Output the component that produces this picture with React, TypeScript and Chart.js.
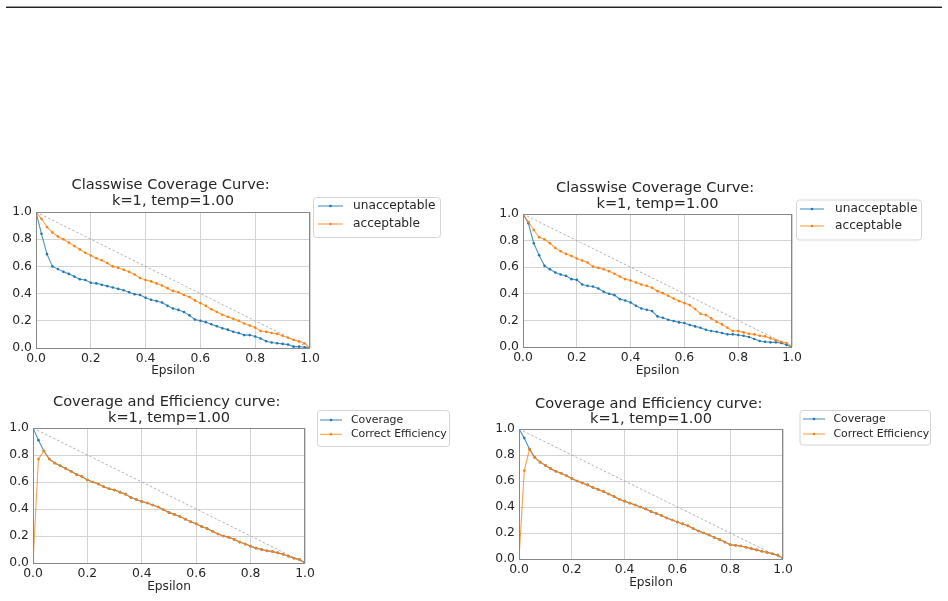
import React, { useEffect, useRef } from "react";
import { Chart, registerables } from "chart.js";

Chart.register(...registerables);

// ---------------- data ----------------
const epsilon = [
  0.0, 0.02, 0.04, 0.06, 0.08, 0.1, 0.12, 0.14, 0.16, 0.18, 0.2, 0.22, 0.24, 0.26, 0.28, 0.3, 0.32,
  0.34, 0.36, 0.38, 0.4, 0.42, 0.44, 0.46, 0.48, 0.5, 0.52, 0.54, 0.56, 0.58, 0.6, 0.62, 0.64, 0.66,
  0.68, 0.7, 0.72, 0.74, 0.76, 0.78, 0.8, 0.82, 0.84, 0.86, 0.88, 0.9, 0.92, 0.94, 0.96, 0.98, 1.0,
];

const leftUnacceptable = [
  1.0, 0.84, 0.69, 0.6, 0.58, 0.56, 0.545, 0.525, 0.505, 0.5, 0.48, 0.475, 0.465, 0.455, 0.445, 0.435,
  0.425, 0.41, 0.395, 0.39, 0.37, 0.355, 0.345, 0.335, 0.31, 0.29, 0.28, 0.265, 0.24, 0.21, 0.2, 0.19,
  0.175, 0.16, 0.145, 0.135, 0.12, 0.11, 0.095, 0.095, 0.085, 0.07, 0.05, 0.04, 0.035, 0.03, 0.025,
  0.01, 0.01, 0.005, 0.0,
];
const leftAcceptable = [
  1.0, 0.95, 0.89, 0.85, 0.82, 0.8, 0.775, 0.75, 0.725, 0.7, 0.68, 0.66, 0.645, 0.625, 0.6, 0.59,
  0.575, 0.56, 0.54, 0.515, 0.5, 0.49, 0.475, 0.46, 0.44, 0.42, 0.41, 0.39, 0.375, 0.35, 0.33, 0.31,
  0.285, 0.265, 0.245, 0.23, 0.215, 0.2, 0.18, 0.165, 0.15, 0.125, 0.12, 0.11, 0.105, 0.09, 0.075,
  0.06, 0.05, 0.035, 0.0,
];
const rightUnacceptable = [
  1.0, 0.93, 0.78, 0.69, 0.61, 0.585, 0.56, 0.545, 0.535, 0.51, 0.505, 0.47, 0.46, 0.455, 0.44, 0.415,
  0.4, 0.39, 0.36, 0.35, 0.335, 0.31, 0.29, 0.28, 0.27, 0.23, 0.22, 0.205, 0.195, 0.185, 0.18, 0.165,
  0.155, 0.145, 0.13, 0.12, 0.115, 0.105, 0.095, 0.095, 0.09, 0.085, 0.075, 0.06, 0.045, 0.04, 0.035,
  0.035, 0.03, 0.015, 0.0,
];
const rightAcceptable = [
  1.0, 0.94, 0.88, 0.825, 0.81, 0.78, 0.745, 0.72, 0.7, 0.685, 0.665, 0.65, 0.635, 0.605, 0.595, 0.585,
  0.57, 0.55, 0.53, 0.51, 0.5, 0.485, 0.47, 0.46, 0.445, 0.42, 0.405, 0.385, 0.365, 0.345, 0.33, 0.315,
  0.285, 0.25, 0.24, 0.215, 0.19, 0.17, 0.145, 0.12, 0.12, 0.11, 0.1, 0.095, 0.085, 0.08, 0.065, 0.05,
  0.04, 0.03, 0.005,
];
const leftCoverage = [
  1.0, 0.91, 0.83, 0.77, 0.74, 0.72, 0.7, 0.68, 0.655, 0.64, 0.615, 0.6, 0.585, 0.565, 0.55, 0.54,
  0.525, 0.51, 0.485, 0.47, 0.455, 0.445, 0.43, 0.415, 0.395, 0.375, 0.36, 0.345, 0.325, 0.305, 0.29,
  0.27, 0.255, 0.235, 0.215, 0.2, 0.19, 0.175, 0.155, 0.14, 0.125, 0.11, 0.1, 0.09, 0.085, 0.075, 0.065,
  0.05, 0.035, 0.025, 0.0,
];
const leftEfficiency = [
  0.0, 0.77, 0.83, 0.77, 0.74, 0.72, 0.7, 0.68, 0.655, 0.64, 0.615, 0.6, 0.585, 0.565, 0.55, 0.54,
  0.525, 0.51, 0.485, 0.47, 0.455, 0.445, 0.43, 0.415, 0.395, 0.375, 0.36, 0.345, 0.325, 0.305, 0.29,
  0.27, 0.255, 0.235, 0.215, 0.2, 0.19, 0.175, 0.155, 0.14, 0.125, 0.11, 0.1, 0.09, 0.085, 0.075, 0.065,
  0.05, 0.035, 0.025, 0.0,
];
const rightCoverage = [
  1.0, 0.93, 0.845, 0.78, 0.745, 0.72, 0.695, 0.675, 0.66, 0.64, 0.62, 0.6, 0.585, 0.57, 0.55, 0.535,
  0.52, 0.5, 0.48, 0.46, 0.445, 0.43, 0.415, 0.4, 0.385, 0.365, 0.35, 0.335, 0.315, 0.3, 0.285, 0.27,
  0.255, 0.235, 0.215, 0.2, 0.185, 0.165, 0.15, 0.13, 0.11, 0.105, 0.1, 0.09, 0.08, 0.07, 0.06, 0.05,
  0.04, 0.03, 0.005,
];
const rightEfficiency = [
  0.0, 0.68, 0.845, 0.78, 0.745, 0.72, 0.695, 0.675, 0.66, 0.64, 0.62, 0.6, 0.585, 0.57, 0.55, 0.535,
  0.52, 0.5, 0.48, 0.46, 0.445, 0.43, 0.415, 0.4, 0.385, 0.365, 0.35, 0.335, 0.315, 0.3, 0.285, 0.27,
  0.255, 0.235, 0.215, 0.2, 0.185, 0.165, 0.15, 0.13, 0.11, 0.105, 0.1, 0.09, 0.08, 0.07, 0.06, 0.05,
  0.04, 0.03, 0.005,
];

const diagonalX = [0, 1];
const diagonalY = [1, 0];
const tickStep = 0.2;
const axisMin = 0;
const axisMax = 1;

const classwiseTitle = ["Classwise Coverage Curve: ", "k=1, temp=1.00"];
const efficiencyTitle = ["Coverage and Efficiency curve: ", "k=1, temp=1.00"];
const classwiseLabels = ["unacceptable", "acceptable"];
const efficiencyLabels = ["Coverage", "Correct Efficiency"];
const xAxisLabel = "Epsilon";

// ---------------- styles / layout ----------------
const FONT = '"DejaVu Sans", "Liberation Sans", sans-serif';
const TEXT = "#262626";
const BLUE = "#1f77b4";
const ORANGE = "#ff7f0e";
const BLUE_LINE = "rgba(31,119,180,0.8)";
const ORANGE_LINE = "rgba(255,127,14,0.75)";

type Cfg = {
  canvas: { left: number; top: number; width: number; height: number };
  area: { l: number; r: number; t: number; b: number };
  titleLines: string[];
  titleY: number[];
  legend: {
    x0: number; x1: number; y0: number; y1: number;
    rows: number[]; lineX0: number; lineX1: number; textX: number; font: number;
  };
  labels: string[];
  series: number[][];
};

const panels: Cfg[] = [
  {
    canvas: { left: 0, top: 160, width: 474, height: 218 },
    area: { l: 36, r: 310, t: 212, b: 348 },
    titleLines: classwiseTitle,
    titleY: [185, 201.7],
    legend: { x0: 313, x1: 440, y0: 197, y1: 237, rows: [206, 224], lineX0: 318, lineX1: 343, textX: 353, font: 12.2 },
    labels: classwiseLabels,
    series: [leftUnacceptable, leftAcceptable],
  },
  {
    canvas: { left: 474, top: 160, width: 474, height: 218 },
    area: { l: 523, r: 792, t: 214, b: 347 },
    titleLines: classwiseTitle,
    titleY: [188.3, 204],
    legend: { x0: 796, x1: 921, y0: 199.5, y1: 239.5, rows: [209, 226], lineX0: 800, lineX1: 824, textX: 835, font: 12.2 },
    labels: classwiseLabels,
    series: [rightUnacceptable, rightAcceptable],
  },
  {
    canvas: { left: 0, top: 380, width: 474, height: 214 },
    area: { l: 33, r: 305, t: 428, b: 563 },
    titleLines: efficiencyTitle,
    titleY: [402.3, 418.3],
    legend: { x0: 317, x1: 449, y0: 410, y1: 446, rows: [420, 434.3], lineX0: 320, lineX1: 342, textX: 351, font: 10.9 },
    labels: efficiencyLabels,
    series: [leftCoverage, leftEfficiency],
  },
  {
    canvas: { left: 474, top: 380, width: 474, height: 210 },
    area: { l: 519, r: 783, t: 429, b: 559 },
    titleLines: efficiencyTitle,
    titleY: [404.3, 419.3],
    legend: { x0: 799.5, x1: 930, y0: 410, y1: 444.5, rows: [419, 434], lineX0: 803, lineX1: 825, textX: 833.5, font: 10.9 },
    labels: efficiencyLabels,
    series: [rightCoverage, rightEfficiency],
  },
];

function toPoints(xs: number[], ys: number[]) {
  return xs.map((x, i) => ({ x, y: ys[i] }));
}

function Panel({ cfg }: { cfg: Cfg }) {
  const ref = useRef<HTMLCanvasElement>(null);
  const c = cfg.canvas;

  useEffect(() => {
    if (!ref.current) return;
    const ox = c.left;
    const oy = c.top;
    const lineColors = [BLUE_LINE, ORANGE_LINE];
    const dotColors = [BLUE, ORANGE];

    const decor = {
      id: "decor",
      afterDatasetsDraw(chart: any) {
        const { ctx, chartArea } = chart;
        ctx.save();
        ctx.strokeStyle = "#888888";
        ctx.lineWidth = 1;
        ctx.strokeRect(
          Math.round(chartArea.left) + 0.5,
          Math.round(chartArea.top) + 0.5,
          Math.round(chartArea.right - chartArea.left) - 1,
          Math.round(chartArea.bottom - chartArea.top)
        );
        ctx.restore();
      },
      afterDraw(chart: any) {
        const { ctx, chartArea } = chart;
        ctx.save();
        // title
        ctx.fillStyle = TEXT;
        ctx.font = `14.6px ${FONT}`;
        ctx.textAlign = "center";
        ctx.textBaseline = "middle";
        const cx = (chartArea.left + chartArea.right) / 2;
        cfg.titleLines.forEach((t, i) => ctx.fillText(t, cx, cfg.titleY[i] - oy));
        // legend
        const lg = cfg.legend;
        const bx = lg.x0 - ox + 0.5, by = lg.y0 - oy + 0.5, bw = lg.x1 - lg.x0, bh = lg.y1 - lg.y0;
        ctx.beginPath();
        const r = 3;
        ctx.moveTo(bx + r, by);
        ctx.arcTo(bx + bw, by, bx + bw, by + bh, r);
        ctx.arcTo(bx + bw, by + bh, bx, by + bh, r);
        ctx.arcTo(bx, by + bh, bx, by, r);
        ctx.arcTo(bx, by, bx + bw, by, r);
        ctx.closePath();
        ctx.fillStyle = "rgba(255,255,255,0.85)";
        ctx.fill();
        ctx.strokeStyle = "#d4d4d4";
        ctx.lineWidth = 1;
        ctx.stroke();
        cfg.labels.forEach((label, i) => {
          const y = lg.rows[i] - oy;
          ctx.strokeStyle = lineColors[i];
          ctx.lineWidth = 1.1;
          ctx.beginPath();
          ctx.moveTo(lg.lineX0 - ox, y);
          ctx.lineTo(lg.lineX1 - ox, y);
          ctx.stroke();
          ctx.fillStyle = dotColors[i];
          ctx.beginPath();
          ctx.arc((lg.lineX0 + lg.lineX1) / 2 - ox, y, 1.3, 0, Math.PI * 2);
          ctx.fill();
          ctx.fillStyle = TEXT;
          ctx.font = `${lg.font}px ${FONT}`;
          ctx.textAlign = "left";
          ctx.textBaseline = "middle";
          ctx.fillText(label, lg.textX - ox, y);
        });
        ctx.restore();
      },
    };

    const tickFont = { family: FONT, size: 12.4 };
    const fmt = (v: any) => Number(v).toFixed(1);

    const chart = new Chart(ref.current, {
      type: "line",
      data: {
        datasets: [
          {
            label: cfg.labels[0],
            data: toPoints(epsilon, cfg.series[0]),
            borderColor: lineColors[0],
            backgroundColor: dotColors[0],
            pointBackgroundColor: dotColors[0],
            borderWidth: 1.1,
            pointRadius: 1.3,
            pointBorderWidth: 0,
            order: 2,
          },
          {
            label: cfg.labels[1],
            data: toPoints(epsilon, cfg.series[1]),
            borderColor: lineColors[1],
            backgroundColor: dotColors[1],
            pointBackgroundColor: dotColors[1],
            borderWidth: 1.1,
            pointRadius: 1.3,
            pointBorderWidth: 0,
            order: 1,
          },
          {
            label: "diagonal",
            data: toPoints(diagonalX, diagonalY),
            borderColor: "#a0a0a0",
            borderWidth: 0.8,
            borderDash: [2.5, 2],
            pointRadius: 0,
            order: 3,
          },
        ],
      },
      options: {
        responsive: false,
        animation: false,
        devicePixelRatio: 1,
        events: [],
        layout: {
          padding: {
            left: 0,
            top: cfg.area.t - c.top,
            right: c.left + c.width - cfg.area.r,
            bottom: 0,
          },
        },
        plugins: {
          legend: { display: false },
          title: { display: false },
          tooltip: { enabled: false },
        },
        scales: {
          x: {
            type: "linear",
            min: axisMin,
            max: axisMax,
            ticks: {
              stepSize: tickStep,
              callback: fmt,
              font: tickFont,
              color: TEXT,
              padding: 3,
              maxRotation: 0,
              autoSkip: false,
            },
            grid: { color: "#d3d3d3", drawTicks: false, lineWidth: 1 },
            border: { display: false },
            title: { display: true, text: xAxisLabel, font: { family: FONT, size: 12.2 }, color: TEXT, padding: 0 },
            afterFit: (s: any) => {
              s.height = c.top + c.height - cfg.area.b;
              s.paddingLeft = 0;
              s.paddingRight = 0;
            },
          },
          y: {
            type: "linear",
            min: axisMin,
            max: axisMax,
            ticks: {
              stepSize: tickStep,
              callback: fmt,
              font: tickFont,
              color: TEXT,
              padding: 4,
              autoSkip: false,
            },
            grid: { color: "#d3d3d3", drawTicks: false, lineWidth: 1 },
            border: { display: false },
            afterFit: (s: any) => {
              s.width = cfg.area.l - c.left;
              s.paddingTop = 0;
              s.paddingBottom = 0;
            },
          },
        },
      } as any,
      plugins: [decor],
    });
    return () => chart.destroy();
  }, []);

  return (
    <canvas
      ref={ref}
      width={c.width}
      height={c.height}
      style={{ position: "absolute", left: c.left, top: c.top, width: c.width, height: c.height }}
    />
  );
}

export default function App() {
  return (
    <div style={{ position: "absolute", left: 0, top: 0, width: 948, height: 601, background: "#fff", overflow: "hidden" }}>
      <div style={{ position: "absolute", left: 6, top: 6, width: 936, height: 1, background: "#222", borderTop: "1px solid #9a9a9a" }} />
      {panels.map((p, i) => (
        <Panel key={i} cfg={p} />
      ))}
    </div>
  );
}
